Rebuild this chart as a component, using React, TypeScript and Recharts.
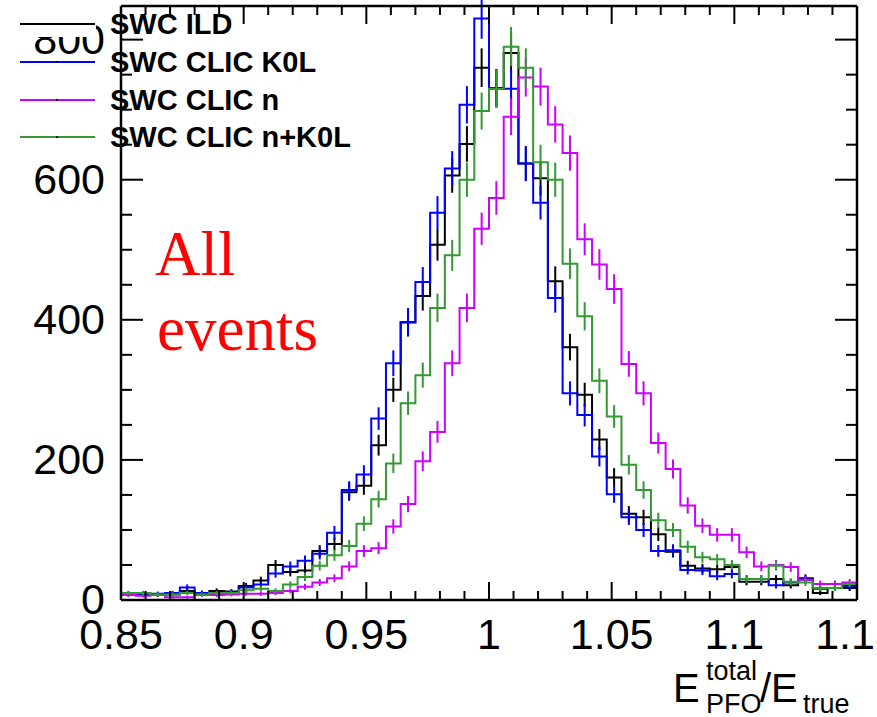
import { ComposedChart, Line, XAxis, YAxis, ErrorBar } from 'recharts';

// histogram bin edges (50 bins of 0.006 between 0.85 and 1.15)
const binEdges = [
  0.85, 0.856, 0.862, 0.868, 0.874, 0.88, 0.886, 0.892, 0.898, 0.904,
  0.91, 0.916, 0.922, 0.928, 0.934, 0.94, 0.946, 0.952, 0.958, 0.964,
  0.97, 0.976, 0.982, 0.988, 0.994, 1.0, 1.006, 1.012, 1.018, 1.024,
  1.03, 1.036, 1.042, 1.048, 1.054, 1.06, 1.066, 1.072, 1.078, 1.084,
  1.09, 1.096, 1.102, 1.108, 1.114, 1.12, 1.126, 1.132, 1.138, 1.144, 1.15,
];

const swcIld = [
  8, 9, 7, 8, 13, 10, 13, 12, 20, 28,
  50, 40, 42, 70, 80, 154, 163, 221, 300, 396,
  434, 507, 606, 651, 760, 731, 781, 623, 602, 455,
  361, 293, 229, 175, 123, 118, 94, 69, 49, 45,
  44, 47, 26, 26, 30, 21, 31, 10, 17, 17,
];
const swcClicK0L = [
  9, 9, 9, 10, 18, 10, 9, 11, 18, 22,
  38, 48, 56, 66, 96, 157, 179, 259, 338, 397,
  454, 553, 616, 707, 830, 730, 730, 623, 567, 431,
  295, 264, 205, 151, 118, 100, 70, 71, 43, 42,
  34, 37, 30, 30, 21, 25, 29, 16, 17, 20,
];
const swcClicN = [
  7, 6, 7, 4, 4, 7, 7, 8, 9, 9,
  10, 13, 19, 25, 31, 48, 70, 74, 105, 137,
  198, 240, 338, 417, 530, 574, 690, 746, 733, 679,
  638, 515, 479, 444, 337, 295, 224, 187, 135, 106,
  93, 93, 68, 48, 50, 47, 29, 23, 23, 25,
];
const swcClicNK0L = [
  10, 10, 8, 8, 10, 8, 10, 10, 14, 16,
  13, 22, 33, 49, 64, 77, 109, 144, 195, 281,
  321, 417, 492, 600, 698, 730, 790, 760, 625, 600,
  480, 405, 313, 262, 193, 157, 114, 100, 76, 61,
  58, 50, 30, 30, 49, 26, 25, 17, 17, 23,
];

const seriesNames = ['SWC ILD', 'SWC CLIC K0L', 'SWC CLIC n', 'SWC CLIC n+K0L'];
const seriesKeys = ['ild', 'k0l', 'n', 'nk0l'];
const seriesColors = ['#000000', '#0000ff', '#cc00ff', '#339933'];
const seriesValues = [swcIld, swcClicK0L, swcClicN, swcClicNK0L];

const xTicks = [
  0.85, 0.86, 0.87, 0.88, 0.89, 0.9, 0.91, 0.92, 0.93, 0.94, 0.95,
  0.96, 0.97, 0.98, 0.99, 1.0, 1.01, 1.02, 1.03, 1.04, 1.05,
  1.06, 1.07, 1.08, 1.09, 1.1, 1.11, 1.12, 1.13, 1.14, 1.15,
];
const xMajor = [0.85, 0.9, 0.95, 1.0, 1.05, 1.1, 1.15];
const xLabels = ['0.85', '0.9', '0.95', '1', '1.05', '1.1', '1.15'];
const yTicks = [0, 50, 100, 150, 200, 250, 300, 350, 400, 450, 500, 550, 600, 650, 700, 750, 800];
const yMajor = [0, 200, 400, 600, 800];
const yLabels = ['0', '200', '400', '600', '800'];

const FONT = '"Liberation Sans", Arial, Helvetica, sans-serif';

// step outline: one point per bin edge, last bin repeated at the upper edge
const stepData = binEdges.map((x, i) => {
  const row: any = { x };
  seriesKeys.forEach((k, s) => (row[k] = seriesValues[s][Math.min(i, seriesValues[s].length - 1)]));
  return row;
});

// bin centres with poisson errors sqrt(N), as drawn by ROOT
const errData = binEdges.slice(0, -1).map((e, i) => {
  const row: any = { x: (e + binEdges[i + 1]) / 2 };
  seriesKeys.forEach((k, s) => {
    row[k] = seriesValues[s][i];
    row[k + 'Err'] = Math.sqrt(seriesValues[s][i]);
  });
  return row;
});

const majorIdx = (list: number[], v: number) => list.findIndex((m) => Math.abs(m - v) < 1e-6);

const BottomTick = (props: any) => {
  const { x, y, payload } = props;
  const idx = majorIdx(xMajor, payload.value);
  return (
    <g>
      <line x1={x} x2={x} y1={y} y2={y - (idx >= 0 ? 18 : 9)} stroke="#000" strokeWidth={2} />
      {idx >= 0 && (
        <text x={x} y={y + 49} textAnchor="middle" fontSize={43} fontFamily={FONT} fill="#000">
          {xLabels[idx]}
        </text>
      )}
    </g>
  );
};

const TopTick = (props: any) => {
  const { x, y, payload } = props;
  const idx = majorIdx(xMajor, payload.value);
  return <line x1={x} x2={x} y1={y} y2={y + (idx >= 0 ? 18 : 9)} stroke="#000" strokeWidth={2} />;
};

const LeftTick = (props: any) => {
  const { x, y, payload } = props;
  const idx = majorIdx(yMajor, payload.value);
  return (
    <g>
      <line x1={x} x2={x + (idx >= 0 ? 22 : 11)} y1={y} y2={y} stroke="#000" strokeWidth={2} />
      {idx >= 0 && (
        <text x={x - 16} y={y + 14} textAnchor="end" fontSize={43} fontFamily={FONT} fill="#000">
          {yLabels[idx]}
        </text>
      )}
    </g>
  );
};

const RightTick = (props: any) => {
  const { x, y, payload } = props;
  const idx = majorIdx(yMajor, payload.value);
  return <line x1={x} x2={x - (idx >= 0 ? 22 : 11)} y1={y} y2={y} stroke="#000" strokeWidth={2} />;
};

const legendRows = [24, 62, 100, 137];

export default function App() {
  return (
    <div style={{ position: 'absolute', left: 0, top: 0, width: 877, height: 717, background: '#fff', overflow: 'hidden' }}>
      <ComposedChart width={877} height={717} margin={{ top: 5, right: 19, left: 120, bottom: 116 }}>
        <XAxis
          xAxisId={0}
          dataKey="x"
          type="number"
          domain={[0.85, 1.15]}
          ticks={xTicks}
          interval={0}
          height={1}
          tickSize={0}
          tickMargin={0}
          tickLine={false}
          axisLine={{ stroke: '#000', strokeWidth: 2.5 }}
          tick={<BottomTick />}
          allowDataOverflow
        />
        <XAxis
          xAxisId="top"
          orientation="top"
          dataKey="x"
          type="number"
          domain={[0.85, 1.15]}
          ticks={xTicks}
          interval={0}
          height={1}
          tickSize={0}
          tickMargin={0}
          tickLine={false}
          axisLine={{ stroke: '#000', strokeWidth: 2.5 }}
          tick={<TopTick />}
          allowDataOverflow
        />
        <YAxis
          yAxisId={0}
          type="number"
          domain={[0, 848]}
          ticks={yTicks}
          interval={0}
          width={1}
          tickSize={0}
          tickMargin={0}
          tickLine={false}
          axisLine={{ stroke: '#000', strokeWidth: 2.5 }}
          tick={<LeftTick />}
          allowDataOverflow
        />
        <YAxis
          yAxisId="right"
          orientation="right"
          type="number"
          domain={[0, 848]}
          ticks={yTicks}
          interval={0}
          width={1}
          tickSize={0}
          tickMargin={0}
          tickLine={false}
          axisLine={{ stroke: '#000', strokeWidth: 2.5 }}
          tick={<RightTick />}
          allowDataOverflow
        />
        {seriesKeys.flatMap((k, s) => [
          <Line
            key={k + '-step'}
            data={stepData}
            dataKey={k}
            type="stepAfter"
            stroke={seriesColors[s]}
            strokeWidth={2}
            dot={false}
            isAnimationActive={false}
          />,
          <Line
            key={k + '-err'}
            data={errData}
            dataKey={k}
            stroke="none"
            dot={false}
            isAnimationActive={false}
          >
            <ErrorBar dataKey={k + 'Err'} direction="y" width={0} stroke={seriesColors[s]} strokeWidth={2} />
          </Line>,
        ])}
      </ComposedChart>

      <svg width={877} height={717} style={{ position: 'absolute', left: 0, top: 0, pointerEvents: 'none' }}>
        {/* legend box partly covering the 800 label */}
        <rect x={0} y={0} width={96} height={37} fill="#fff" />
        {seriesNames.map((name, i) => (
          <g key={name}>
            <line x1={20} x2={95} y1={legendRows[i]} y2={legendRows[i]} stroke={seriesColors[i]} strokeWidth={2} />
            <rect x={56} y={legendRows[i] - 1} width={2} height={2} fill="#000" />
            <text x={110} y={legendRows[i] + 10} fontSize={29} fontWeight="bold" fontFamily={FONT} fill="#000">
              {name}
            </text>
          </g>
        ))}

        <text x={155} y={275} fontSize={63} fontFamily='"Liberation Serif", "Times New Roman", serif' fill="#ff0000">
          All
        </text>
        <text x={157} y={350} fontSize={63} fontFamily='"Liberation Serif", "Times New Roman", serif' fill="#ff0000">
          events
        </text>

        <g fontFamily={FONT} fill="#000">
          <text x={673} y={702} fontSize={40}>E</text>
          <text x={706} y={680} fontSize={27}>total</text>
          <text x={706} y={713} fontSize={27}>PFO</text>
          <text x={760} y={702} fontSize={40}>/E</text>
          <text x={803} y={713} fontSize={27}>true</text>
        </g>
      </svg>
    </div>
  );
}
